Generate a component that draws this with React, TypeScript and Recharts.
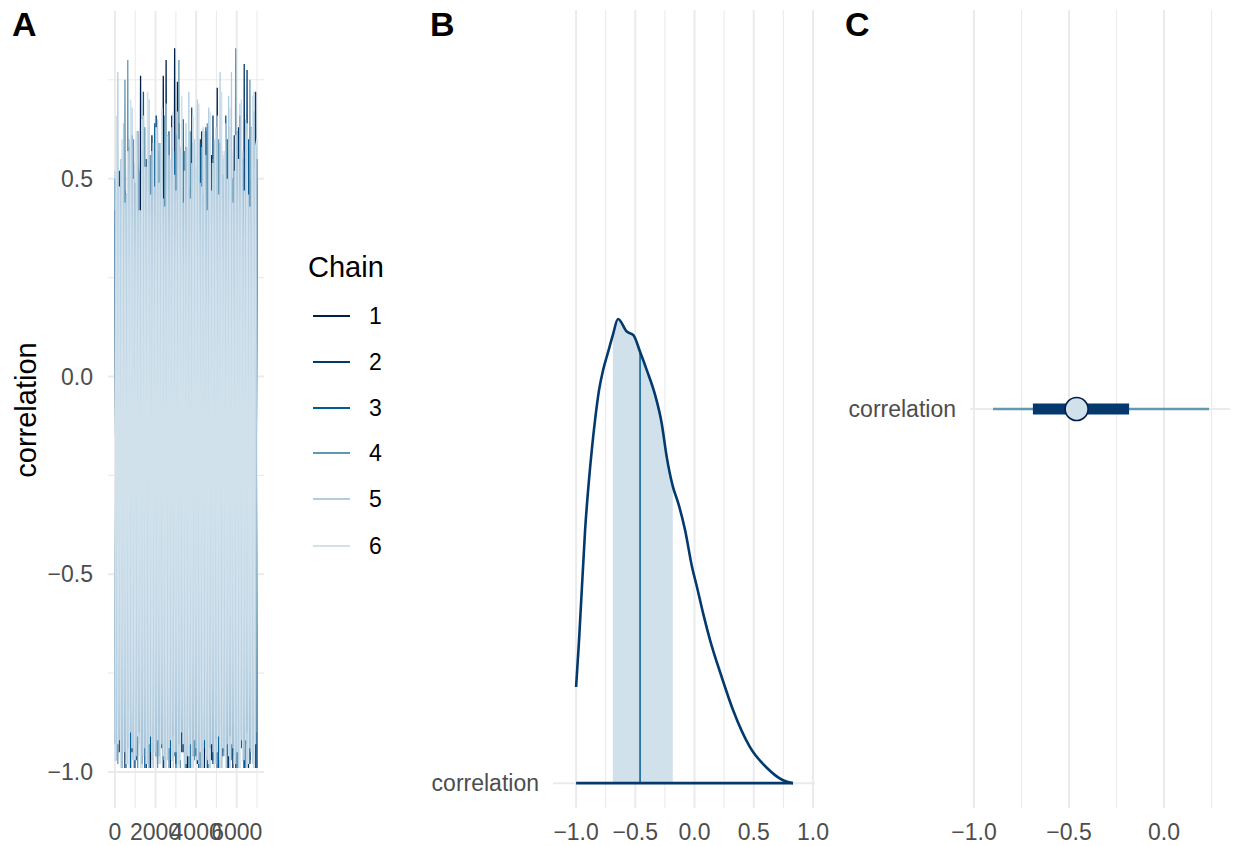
import React from "react";
import {
  LineChart,
  Line,
  XAxis,
  YAxis,
  CartesianGrid,
  ComposedChart,
  Area,
  Scatter,
} from "recharts";

const FONT = "'Liberation Sans', Arial, Helvetica, sans-serif";
const TICK = "#4d4d4d";
const GRID = "#ebebeb";

// ---- panel A: trace (thinned draws, one value every THIN iterations) ----
const THIN = 70;
const chainNames = ["1", "2", "3", "4", "5", "6"];
const chainColors = ["#011f4b", "#03396c", "#005b96", "#6497b1", "#b3cde0", "#d1e1ec"];

const chain1 = [0.42,-0.88,0.35,-0.95,0.51,-0.78,0.28,-0.99,0.46,-0.84,
  0.58,-0.92,0.33,-0.97,0.49,-0.81,0.62,-0.9,0.76,-0.98,
  0.4,-0.86,0.55,-0.93,0.3,-0.99,0.61,-0.83,0.44,-0.96,
  0.57,-0.88,0.36,-0.94,0.76,-0.97,0.8,-0.85,0.52,-0.99,
  0.66,-0.91,0.83,-0.98,0.745,-0.87,0.48,-0.95,0.39,-0.82,
  0.58,-0.99,0.34,-0.9,0.5,-0.96,0.27,-0.84,0.45,-0.97,
  0.6,-0.89,0.38,-0.99,0.62,-0.86,0.43,-0.94,0.56,-0.98,
  0.41,-0.83,0.73,-0.95,0.59,-0.99,0.47,-0.88,0.32,-0.96,
  0.54,-0.91,0.37,-0.99,0.61,-0.85,0.49,-0.97,0.66,-0.9,
  0.52,-0.99,0.44,-0.87,0.58,-0.98,0.63,-0.92,0.4,-0.99,
  0.55];
const chain2 = [-0.93,0.38,-0.86,0.52,-0.99,0.29,-0.9,0.47,-0.97,0.6,
  -0.84,0.35,-0.95,0.54,-0.99,0.41,-0.88,0.31,-0.96,0.57,
  -0.92,0.44,-0.99,0.63,-0.85,0.37,-0.97,0.5,-0.9,0.66,
  -0.98,0.42,-0.87,0.55,-0.99,0.33,-0.93,0.61,-0.86,0.46,
  -0.97,0.58,-0.91,0.39,-0.99,0.64,-0.88,0.48,-0.95,0.3,
  -0.99,0.53,-0.84,0.45,-0.96,0.59,-0.9,0.36,-0.98,0.51,
  -0.87,0.62,-0.99,0.4,-0.93,0.56,-0.85,0.34,-0.97,0.66,
  -0.9,0.49,-0.99,0.43,-0.88,0.57,-0.96,0.32,-0.92,0.6,
  -0.99,0.47,-0.86,0.38,-0.95,0.54,-0.99,0.63,-0.89,0.41,
  -0.97,0.79,-0.93,0.775,-0.99,0.5,-0.87,0.58,-0.96,0.72,
  -0.99];
const chain3 = [0.5,-0.97,0.33,-0.89,0.45,-0.99,0.58,-0.86,0.37,-0.94,
  0.29,-0.99,0.61,-0.9,0.42,-0.97,0.53,-0.85,0.35,-0.93,
  0.72,-0.99,0.47,-0.88,0.56,-0.95,0.31,-0.99,0.64,-0.87,
  0.4,-0.96,0.55,-0.91,0.36,-0.99,0.49,-0.84,0.62,-0.97,
  0.43,-0.9,0.57,-0.99,0.3,-0.93,0.52,-0.86,0.65,-0.98,
  0.39,-0.91,0.48,-0.99,0.68,-0.88,0.44,-0.96,0.34,-0.99,
  0.59,-0.85,0.46,-0.94,0.63,-0.99,0.37,-0.89,0.54,-0.97,
  0.42,-0.92,0.6,-0.99,0.33,-0.87,0.51,-0.95,0.66,-0.99,
  0.45,-0.9,0.57,-0.96,0.38,-0.99,0.62,-0.86,0.48,-0.94,
  0.55,-0.99,0.35,-0.9,0.6,-0.97,0.44,-0.88,0.67,-0.99,
  0.5];
const chain4 = [-0.9,0.44,-0.98,0.36,-0.87,0.55,-0.95,0.75,-0.99,0.8,
  -0.91,0.47,-0.85,0.6,-0.97,0.33,-0.99,0.52,-0.88,0.41,
  -0.96,0.63,-0.9,0.38,-0.99,0.56,-0.86,0.45,-0.94,0.31,
  -0.99,0.59,-0.89,0.48,-0.97,0.66,-0.92,0.4,-0.99,0.54,
  -0.85,0.35,-0.96,0.61,-0.9,0.8,-0.99,0.43,-0.87,0.57,
  -0.95,0.39,-0.99,0.62,-0.88,0.46,-0.97,0.53,-0.91,0.34,
  -0.99,0.58,-0.86,0.49,-0.95,0.64,-0.99,0.42,-0.89,0.55,
  -0.96,0.37,-0.99,0.6,-0.87,0.47,-0.94,0.56,-0.99,0.4,
  -0.9,0.63,-0.97,0.5,-0.88,0.83,-0.99,0.45,-0.92,0.58,
  -0.96,0.36,-0.99,0.61,-0.86,0.75,-0.95,0.52,-0.99,0.44,
  -0.9];
const chain5 = [0.52,-0.97,0.77,-0.92,0.55,-0.99,0.64,-0.95,0.46,-0.98,
  0.6,-0.9,0.68,-0.99,0.5,-0.96,0.62,-0.93,0.42,-0.99,
  0.66,-0.94,0.53,-0.98,0.7,-0.91,0.57,-0.99,0.48,-0.96,
  0.65,-0.98,0.59,-0.93,0.45,-0.99,0.69,-0.97,0.56,-0.92,
  0.63,-0.99,0.51,-0.95,0.67,-0.98,0.58,-0.9,0.44,-0.99,
  0.64,-0.96,0.72,-0.93,0.54,-0.99,0.6,-0.94,0.7,-0.98,
  0.49,-0.99,0.63,-0.92,0.56,-0.97,0.68,-0.99,0.47,-0.95,
  0.6,-0.98,0.66,-0.91,0.77,-0.99,0.55,-0.96,0.64,-0.93,
  0.71,-0.99,0.77,-0.94,0.52,-0.98,0.62,-0.99,0.69,-0.92,
  0.57,-0.97,0.65,-0.99,0.46,-0.94,0.63,-0.98,0.72,-0.93,
  0.6];
const chain6 = [-0.97,0.66,-0.93,0.48,-0.99,0.6,-0.95,0.44,-0.98,0.57,
  -0.99,0.7,-0.94,0.5,-0.97,0.62,-0.91,0.42,-0.99,0.65,
  -0.96,0.53,-0.98,0.72,-0.93,0.46,-0.99,0.59,-0.95,0.63,
  -0.92,0.49,-0.98,0.68,-0.96,0.43,-0.99,0.61,-0.94,0.55,
  -0.97,0.67,-0.95,0.47,-0.99,0.6,-0.97,0.71,-0.93,0.52,
  -0.98,0.58,-0.96,0.45,-0.99,0.66,-0.92,0.56,-0.97,0.69,
  -0.95,0.48,-0.99,0.62,-0.96,0.42,-0.98,0.67,-0.93,0.54,
  -0.99,0.63,-0.95,0.46,-0.97,0.72,-0.94,0.57,-0.99,0.5,
  -0.96,0.68,-0.93,0.44,-0.98,0.61,-0.95,0.55,-0.99,0.7,
  -0.97,0.47,-0.92,0.64,-0.98,0.43,-0.95,0.71,-0.99,0.58,
  0.6];
const chains = [chain1, chain2, chain3, chain4, chain5, chain6];

const traceXTicks = [0, 2000, 4000, 6000];
const traceXMinor = [1000, 3000, 5000, 7000];
const traceYTicks = [-1, -0.5, 0, 0.5];
const traceYMinor = [-0.75, -0.25, 0.25, 0.75];

// ---- panel B: posterior density ----
const paramName = "correlation";
const densX = [-1.0, -0.975, -0.924, -0.865, -0.84, -0.806, -0.772, -0.73, -0.69, -0.646,
  -0.572, -0.516, -0.46, -0.403, -0.333, -0.277, -0.235, -0.184, -0.137, -0.08,
  -0.021, 0.021, 0.072, 0.131, 0.232, 0.325, 0.468, 0.612, 0.747, 0.831];
const densY = [0.267, 0.397, 0.703, 0.933, 1.008, 1.092, 1.147, 1.197, 1.244, 1.289,
  1.254, 1.244, 1.198, 1.147, 1.078, 0.999, 0.906, 0.825, 0.777, 0.703,
  0.6, 0.544, 0.472, 0.397, 0.292, 0.203, 0.1, 0.042, 0.008, 0];
const median = -0.46;
const medianDens = 1.198;
const inner50 = [-0.69, -0.184];
const outer90 = [-0.9, 0.237];

const corrTicks = [-1, -0.5, 0, 0.5, 1];
const corrMinor = [-0.75, -0.25, 0.25, 0.75];
const intervalTicks = [-1, -0.5, 0];
const intervalMinor = [-0.75, -0.25, 0.25];

const fmt = (v: number) => v.toFixed(1).replace("-", "\u2212");

const tickStyle = { fill: TICK, fontSize: 23, fontFamily: FONT };

function TracePanel() {
  const iters = chain1.map((_, i) => i * THIN);
  return (
    <LineChart width={270} height={846} margin={{ top: 11, right: 6, bottom: 0, left: 0 }}>
      <CartesianGrid stroke={GRID} strokeWidth={1.1} horizontalValues={traceYMinor} verticalValues={traceXMinor} />
      <CartesianGrid stroke={GRID} strokeWidth={2} horizontalValues={traceYTicks} verticalValues={traceXTicks} />
      <XAxis
        type="number"
        dataKey="iter"
        domain={[-345, 7345]}
        allowDataOverflow
        ticks={traceXTicks}
        interval={0}
        tick={tickStyle}
        tickFormatter={(v) => String(v)}
        axisLine={false}
        tickLine={false}
        tickSize={0}
        tickMargin={16}
        height={38}
      />
      <YAxis
        type="number"
        domain={[-1.091, 0.924]}
        allowDataOverflow
        ticks={traceYTicks}
        interval={0}
        tick={tickStyle}
        tickFormatter={fmt}
        axisLine={false}
        tickLine={false}
        tickSize={0}
        tickMargin={15}
        width={108}
      />
      {chains.map((vals, k) => (
        <Line
          key={chainNames[k]}
          data={vals.map((v, i) => ({ iter: iters[i], v }))}
          dataKey="v"
          stroke={chainColors[k]}
          strokeWidth={k === 5 ? 1.6 : 1.3}
          dot={false}
          type="linear"
          isAnimationActive={false}
        />
      ))}
    </LineChart>
  );
}

function DensityPanel() {
  const dens = densX.map((x, i) => ({ x, y: densY[i] }));
  const band = dens.filter((d) => d.x >= inner50[0] - 1e-9 && d.x <= inner50[1] + 1e-9);
  const base = [{ x: densX[0], y: 0 }, { x: densX[densX.length - 1], y: 0 }];
  const med = [{ x: median, y: 0 }, { x: median, y: medianDens }];
  return (
    <ComposedChart width={440} height={846} margin={{ top: 10, right: 25, bottom: 0, left: 0 }}>
      <CartesianGrid stroke={GRID} strokeWidth={1.1} horizontal={false} verticalValues={corrMinor} />
      <CartesianGrid stroke={GRID} strokeWidth={2} horizontalValues={[0]} verticalValues={corrTicks} />
      <XAxis
        type="number"
        dataKey="x"
        domain={[-1.195, 1.017]}
        allowDataOverflow
        ticks={corrTicks}
        interval={0}
        tick={tickStyle}
        tickFormatter={fmt}
        axisLine={false}
        tickLine={false}
        tickSize={0}
        tickMargin={16}
        height={38}
      />
      <YAxis
        type="number"
        domain={[-0.069, 2.147]}
        allowDataOverflow
        ticks={[0]}
        interval={0}
        tick={tickStyle}
        tickFormatter={() => paramName}
        axisLine={false}
        tickLine={false}
        tickSize={0}
        tickMargin={14}
        width={153}
      />
      <Area data={band} dataKey="y" type="monotone" fill="#d1e1ec" fillOpacity={1} stroke="none" baseValue={0} isAnimationActive={false} />
      <Line data={med} dataKey="y" stroke="#005b96" strokeWidth={1.5} dot={false} type="linear" isAnimationActive={false} />
      <Line data={base} dataKey="y" stroke="#03396c" strokeWidth={2.6} dot={false} type="linear" isAnimationActive={false} />
      <Line data={dens} dataKey="y" stroke="#03396c" strokeWidth={2.6} dot={false} type="monotone" isAnimationActive={false} />
    </ComposedChart>
  );
}

function IntervalPanel() {
  const outer = [{ x: outer90[0], y: 1 }, { x: outer90[1], y: 1 }];
  const inner = [{ x: inner50[0], y: 1 }, { x: inner50[1], y: 1 }];
  const point = [{ x: median, y: 1 }];
  return (
    <ComposedChart width={405} height={846} margin={{ top: 10, right: 5, bottom: 0, left: 0 }}>
      <CartesianGrid stroke={GRID} strokeWidth={1.1} horizontal={false} verticalValues={intervalMinor} />
      <CartesianGrid stroke={GRID} strokeWidth={2} horizontalValues={[1]} verticalValues={intervalTicks} />
      <XAxis
        type="number"
        dataKey="x"
        domain={[-1.021, 0.347]}
        allowDataOverflow
        ticks={intervalTicks}
        interval={0}
        tick={tickStyle}
        tickFormatter={fmt}
        axisLine={false}
        tickLine={false}
        tickSize={0}
        tickMargin={16}
        height={38}
      />
      <YAxis
        type="number"
        dataKey="y"
        domain={[0, 2]}
        allowDataOverflow
        ticks={[1]}
        interval={0}
        tick={tickStyle}
        tickFormatter={() => paramName}
        axisLine={false}
        tickLine={false}
        tickSize={0}
        tickMargin={14}
        width={140}
      />
      <Line data={outer} dataKey="y" stroke="#6497b1" strokeWidth={2.6} dot={false} type="linear" isAnimationActive={false} />
      <Line data={inner} dataKey="y" stroke="#03396c" strokeWidth={11} strokeLinecap="butt" dot={false} type="linear" isAnimationActive={false} />
      <Scatter
        data={point}
        dataKey="y"
        isAnimationActive={false}
        shape={(p: any) => <circle cx={p.cx} cy={p.cy} r={11.5} fill="#d1e1ec" stroke="#011f4b" strokeWidth={1.6} />}
      />
    </ComposedChart>
  );
}

export default function App() {
  const legendRows = [316, 362, 408, 453, 499, 546];
  return (
    <div style={{ position: "absolute", left: 0, top: 0, width: 1235, height: 846, background: "#fff", overflow: "hidden", fontFamily: FONT }}>
      <div style={{ position: "absolute", left: 0, top: 0 }}>
        <TracePanel />
      </div>
      <div style={{ position: "absolute", left: 400, top: 0 }}>
        <DensityPanel />
      </div>
      <div style={{ position: "absolute", left: 830, top: 0 }}>
        <IntervalPanel />
      </div>
      <svg width={1235} height={846} style={{ position: "absolute", left: 0, top: 0, pointerEvents: "none" }} fontFamily={FONT}>
        <text x={12} y={36} fontSize={34} fontWeight="bold" fill="#000">A</text>
        <text x={430} y={36} fontSize={34} fontWeight="bold" fill="#000">B</text>
        <text x={845} y={36} fontSize={34} fontWeight="bold" fill="#000">C</text>
        <text transform="translate(36,410) rotate(-90)" textAnchor="middle" fontSize={29} fill="#000">correlation</text>
        <text x={308} y={277} fontSize={29} fill="#000">Chain</text>
        {chainNames.map((n, k) => (
          <g key={n}>
            <line x1={313} x2={350} y1={legendRows[k]} y2={legendRows[k]} stroke={chainColors[k]} strokeWidth={1.8} />
            <text x={369} y={legendRows[k]} dy="0.36em" fontSize={23} fill="#000">{n}</text>
          </g>
        ))}
      </svg>
    </div>
  );
}
